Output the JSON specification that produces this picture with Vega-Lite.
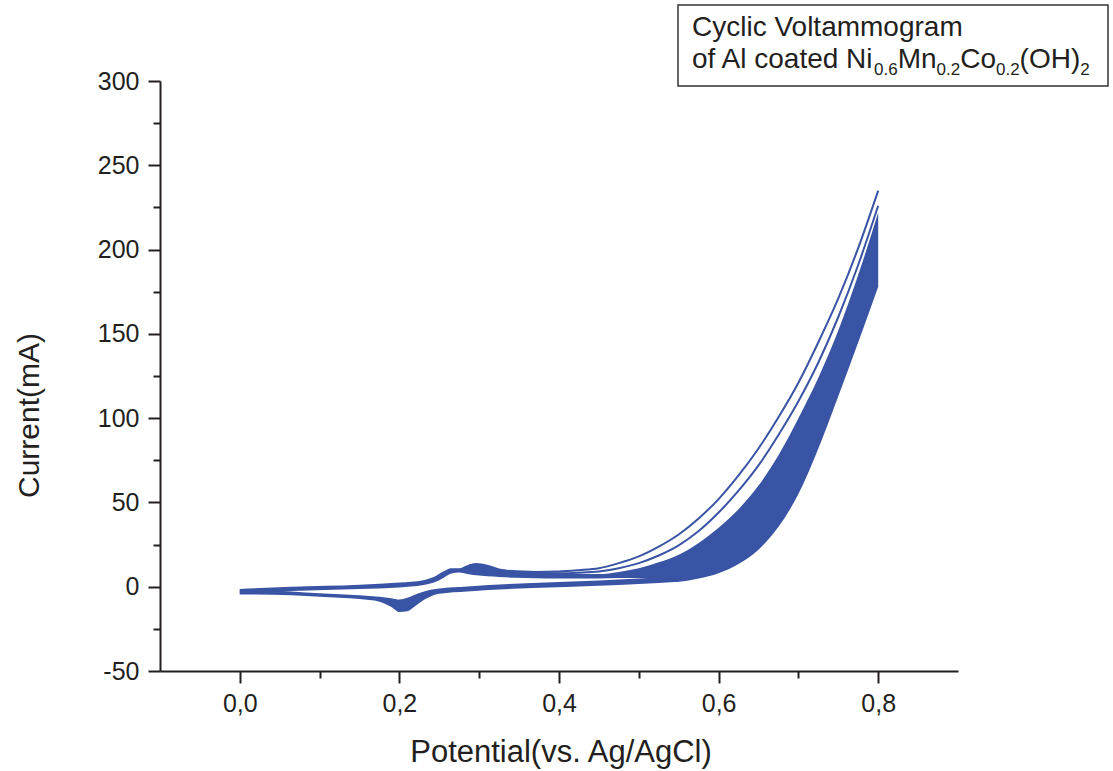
{
  "$schema": "https://vega.github.io/schema/vega-lite/v6.json",
  "width": 798,
  "height": 590,
  "autosize": {"type": "none"},
  "padding": {"left": 160, "top": 81, "right": 155, "bottom": 100},
  "background": "white",
  "config": {"view": {"stroke": null}, "font": "Liberation Sans"},
  "datasets": {
    "band": [
      {"s": "fwd", "E": 0.0, "lo": -4.3, "hi": -1.3},
      {"s": "fwd", "E": 0.065, "lo": -2.6, "hi": 0.0},
      {"s": "fwd", "E": 0.15, "lo": -1.3, "hi": 1.2},
      {"s": "fwd", "E": 0.2, "lo": -0.4, "hi": 2.5},
      {"s": "fwd", "E": 0.23, "lo": 1.0, "hi": 3.9},
      {"s": "fwd", "E": 0.245, "lo": 2.8, "hi": 6.2},
      {"s": "fwd", "E": 0.255, "lo": 5.2, "hi": 9.0},
      {"s": "fwd", "E": 0.265, "lo": 7.8, "hi": 10.9},
      {"s": "fwd", "E": 0.275, "lo": 8.4, "hi": 11.0},
      {"s": "fwd", "E": 0.285, "lo": 7.6, "hi": 12.8},
      {"s": "fwd", "E": 0.296, "lo": 6.8, "hi": 14.0},
      {"s": "fwd", "E": 0.31, "lo": 6.2, "hi": 13.0},
      {"s": "fwd", "E": 0.325, "lo": 5.8, "hi": 10.8},
      {"s": "fwd", "E": 0.345, "lo": 5.3, "hi": 9.3},
      {"s": "fwd", "E": 0.37, "lo": 5.0, "hi": 8.6},
      {"s": "fwd", "E": 0.4, "lo": 4.8, "hi": 8.0},
      {"s": "fwd", "E": 0.425, "lo": 4.8, "hi": 7.6},
      {"s": "fwd", "E": 0.45, "lo": 4.9, "hi": 7.5},
      {"s": "fwd", "E": 0.475, "lo": 5.1, "hi": 8.8},
      {"s": "fwd", "E": 0.5, "lo": 5.2, "hi": 11.0},
      {"s": "fwd", "E": 0.525, "lo": 4.4, "hi": 14.5},
      {"s": "fwd", "E": 0.55, "lo": 3.0, "hi": 19},
      {"s": "fwd", "E": 0.575, "lo": 4.8, "hi": 26},
      {"s": "fwd", "E": 0.6, "lo": 8, "hi": 35},
      {"s": "fwd", "E": 0.625, "lo": 13.5, "hi": 46},
      {"s": "fwd", "E": 0.65, "lo": 22, "hi": 60},
      {"s": "fwd", "E": 0.675, "lo": 35.5, "hi": 78},
      {"s": "fwd", "E": 0.7, "lo": 55, "hi": 100},
      {"s": "fwd", "E": 0.725, "lo": 82, "hi": 124},
      {"s": "fwd", "E": 0.75, "lo": 113, "hi": 152},
      {"s": "fwd", "E": 0.775, "lo": 145, "hi": 185},
      {"s": "fwd", "E": 0.8, "lo": 178, "hi": 222},
      {"s": "rev", "E": 0.0, "lo": -4.6, "hi": -1.5},
      {"s": "rev", "E": 0.065, "lo": -5.0, "hi": -2.8},
      {"s": "rev", "E": 0.1, "lo": -5.9, "hi": -3.9},
      {"s": "rev", "E": 0.15, "lo": -7.3, "hi": -5.0},
      {"s": "rev", "E": 0.175, "lo": -8.9, "hi": -5.9},
      {"s": "rev", "E": 0.19, "lo": -12.0, "hi": -6.8},
      {"s": "rev", "E": 0.2, "lo": -15.0, "hi": -7.6},
      {"s": "rev", "E": 0.21, "lo": -14.6, "hi": -6.6},
      {"s": "rev", "E": 0.22, "lo": -11.5, "hi": -4.6},
      {"s": "rev", "E": 0.232, "lo": -7.5, "hi": -2.7},
      {"s": "rev", "E": 0.25, "lo": -4.2, "hi": -1.1},
      {"s": "rev", "E": 0.285, "lo": -2.8, "hi": 0.2},
      {"s": "rev", "E": 0.367, "lo": -0.8, "hi": 2.2},
      {"s": "rev", "E": 0.45, "lo": 0.6, "hi": 3.7},
      {"s": "rev", "E": 0.5, "lo": 1.6, "hi": 4.9},
      {"s": "rev", "E": 0.55, "lo": 3.0, "hi": 6.0}
    ],
    "lines": [
      {"s": "c1", "E": 0.33, "I": 9.6},
      {"s": "c1", "E": 0.37, "I": 8.8},
      {"s": "c1", "E": 0.4, "I": 9.0},
      {"s": "c1", "E": 0.425, "I": 9.8},
      {"s": "c1", "E": 0.45, "I": 11},
      {"s": "c1", "E": 0.475, "I": 14},
      {"s": "c1", "E": 0.5, "I": 18},
      {"s": "c1", "E": 0.525, "I": 23.8},
      {"s": "c1", "E": 0.55, "I": 31},
      {"s": "c1", "E": 0.575, "I": 40.5},
      {"s": "c1", "E": 0.6, "I": 52},
      {"s": "c1", "E": 0.625, "I": 66},
      {"s": "c1", "E": 0.65, "I": 82},
      {"s": "c1", "E": 0.675, "I": 100.5},
      {"s": "c1", "E": 0.7, "I": 121},
      {"s": "c1", "E": 0.725, "I": 145},
      {"s": "c1", "E": 0.75, "I": 171},
      {"s": "c1", "E": 0.775, "I": 201},
      {"s": "c1", "E": 0.8, "I": 235},
      {"s": "c2", "E": 0.35, "I": 8.0},
      {"s": "c2", "E": 0.4, "I": 8.0},
      {"s": "c2", "E": 0.425, "I": 8.3},
      {"s": "c2", "E": 0.45, "I": 9.0},
      {"s": "c2", "E": 0.475, "I": 11.0},
      {"s": "c2", "E": 0.5, "I": 14},
      {"s": "c2", "E": 0.525, "I": 18.5},
      {"s": "c2", "E": 0.55, "I": 24.5},
      {"s": "c2", "E": 0.575, "I": 33},
      {"s": "c2", "E": 0.6, "I": 44},
      {"s": "c2", "E": 0.625, "I": 57},
      {"s": "c2", "E": 0.65, "I": 72},
      {"s": "c2", "E": 0.675, "I": 90},
      {"s": "c2", "E": 0.7, "I": 110},
      {"s": "c2", "E": 0.725, "I": 133},
      {"s": "c2", "E": 0.75, "I": 160},
      {"s": "c2", "E": 0.775, "I": 191},
      {"s": "c2", "E": 0.8, "I": 226}
    ]
  },
  "layer": [
    {
      "data": {"name": "band"},
      "mark": {"type": "area", "interpolate": "monotone", "color": "#3a54a5"},
      "encoding": {
        "x": {
          "field": "E", "type": "quantitative",
          "scale": {"domain": [-0.1, 0.9], "nice": false, "zero": false},
          "axis": {
            "title": "Potential(vs. Ag/AgCl)",
            "values": [0, 0.1, 0.2, 0.3, 0.4, 0.5, 0.6, 0.7, 0.8],
            "labelExpr": "round(datum.value*10) % 2 == 0 ? replace(format(datum.value, '.1f'), '.', ',') : ''",
            "tickSize": {"condition": {"test": "round(datum.value*10) % 2 == 0", "value": 12}, "value": 7},
            "grid": false,
            "domainColor": "#231f20", "domainWidth": 2,
            "tickColor": "#231f20", "tickWidth": 2,
            "labelFont": "Liberation Sans", "labelFontSize": 25, "labelColor": "#231f20",
            "labelPadding": 8, "labelFlush": false, "labelOverlap": false,
            "titleFont": "Liberation Sans", "titleFontSize": 31, "titleFontWeight": "normal", "titleColor": "#231f20",
            "titleX": 400.5, "titleY": 90, "titleAlign": "center", "titleBaseline": "alphabetic"
          }
        },
        "y": {
          "field": "lo", "type": "quantitative",
          "scale": {"domain": [-50, 300], "nice": false, "zero": false},
          "axis": {
            "title": "Current(mA)",
            "values": [-50, -25, 0, 25, 50, 75, 100, 125, 150, 175, 200, 225, 250, 275, 300],
            "labelExpr": "datum.value % 50 == 0 ? '' + datum.value : ''",
            "tickSize": {"condition": {"test": "datum.value % 50 == 0", "value": 12}, "value": 7},
            "grid": false,
            "domainColor": "#231f20", "domainWidth": 2,
            "tickColor": "#231f20", "tickWidth": 2,
            "labelFont": "Liberation Sans", "labelFontSize": 25, "labelColor": "#231f20",
            "labelPadding": 9, "labelFlush": false, "labelOverlap": false,
            "titleFont": "Liberation Sans", "titleFontSize": 30, "titleFontWeight": "normal", "titleColor": "#231f20",
            "titleX": -131, "titleY": 334, "titleAngle": 270, "titleAlign": "center", "titleBaseline": "middle"
          }
        },
        "y2": {"field": "hi"},
        "detail": {"field": "s"}
      }
    },
    {
      "data": {"name": "lines"},
      "mark": {"type": "line", "interpolate": "monotone", "color": "#3a54a5", "strokeWidth": 2},
      "encoding": {
        "x": {"field": "E", "type": "quantitative"},
        "y": {"field": "I", "type": "quantitative"},
        "detail": {"field": "s"}
      }
    },
    {
      "data": {"values": [{}]},
      "mark": {"type": "rect", "fill": "white", "stroke": "#333333", "strokeWidth": 1.5},
      "encoding": {
        "x": {"datum": 0.54912}, "x2": {"datum": 1.08797},
        "y": {"datum": 345.08}, "y2": {"datum": 297.03}
      }
    },
    {
      "data": {"values": [{}]},
      "mark": {"type": "text", "text": "Cyclic Voltammogram", "align": "left", "baseline": "alphabetic", "font": "Liberation Sans", "fontSize": 28, "color": "#231f20"},
      "encoding": {"x": {"datum": 0.56667}, "y": {"datum": 326.40}}
    },
    {
      "data": {"values": [{}]},
      "mark": {"type": "text", "text": "of Al coated Ni", "align": "left", "baseline": "alphabetic", "font": "Liberation Sans", "fontSize": 28, "color": "#231f20"},
      "encoding": {"x": {"datum": 0.56667}, "y": {"datum": 307.42}}
    },
    {
      "data": {"values": [{}]},
      "mark": {"type": "text", "text": "0.6", "align": "left", "baseline": "alphabetic", "font": "Liberation Sans", "fontSize": 17, "color": "#231f20", "dx": 182.1, "dy": 6.5},
      "encoding": {"x": {"datum": 0.56667}, "y": {"datum": 307.42}}
    },
    {
      "data": {"values": [{}]},
      "mark": {"type": "text", "text": "Mn", "align": "left", "baseline": "alphabetic", "font": "Liberation Sans", "fontSize": 28, "color": "#231f20", "dx": 205.7},
      "encoding": {"x": {"datum": 0.56667}, "y": {"datum": 307.42}}
    },
    {
      "data": {"values": [{}]},
      "mark": {"type": "text", "text": "0.2", "align": "left", "baseline": "alphabetic", "font": "Liberation Sans", "fontSize": 17, "color": "#231f20", "dx": 244.6, "dy": 6.5},
      "encoding": {"x": {"datum": 0.56667}, "y": {"datum": 307.42}}
    },
    {
      "data": {"values": [{}]},
      "mark": {"type": "text", "text": "Co", "align": "left", "baseline": "alphabetic", "font": "Liberation Sans", "fontSize": 28, "color": "#231f20", "dx": 268.2},
      "encoding": {"x": {"datum": 0.56667}, "y": {"datum": 307.42}}
    },
    {
      "data": {"values": [{}]},
      "mark": {"type": "text", "text": "0.2", "align": "left", "baseline": "alphabetic", "font": "Liberation Sans", "fontSize": 17, "color": "#231f20", "dx": 304.0, "dy": 6.5},
      "encoding": {"x": {"datum": 0.56667}, "y": {"datum": 307.42}}
    },
    {
      "data": {"values": [{}]},
      "mark": {"type": "text", "text": "(OH)", "align": "left", "baseline": "alphabetic", "font": "Liberation Sans", "fontSize": 28, "color": "#231f20", "dx": 327.6},
      "encoding": {"x": {"datum": 0.56667}, "y": {"datum": 307.42}}
    },
    {
      "data": {"values": [{}]},
      "mark": {"type": "text", "text": "2", "align": "left", "baseline": "alphabetic", "font": "Liberation Sans", "fontSize": 17, "color": "#231f20", "dx": 388.2, "dy": 6.5},
      "encoding": {"x": {"datum": 0.56667}, "y": {"datum": 307.42}}
    }
  ]
}
